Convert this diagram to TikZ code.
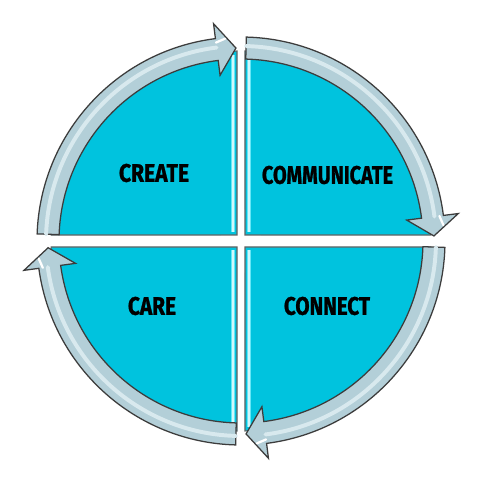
\documentclass[tikz,border=0pt]{standalone}
\usepackage{graphicx}
\usepackage{fontspec}
\newfontfamily\labelfont{Fira Sans}[FakeBold=1.2]
\definecolor{quadcyan}{HTML}{00C3DE}
\definecolor{quadlight}{HTML}{66E6F6}
\definecolor{bandfill}{HTML}{B3CFD8}
\definecolor{bandhi}{HTML}{D8E9EE}
\definecolor{edgegray}{HTML}{3C3C3C}
\tikzset{
  quad/.style={fill=quadcyan, draw=edgegray!80, line width=0.8},
  quadhi/.style={draw=quadlight, line width=2.6},
  quadcore/.style={draw=white!70!quadlight, line width=0.8},
  bandglow/.style={draw=bandhi, line width=2.8, line cap=round},
  glint/.style={draw=white, line width=1.6, line cap=round},
  lbl/.style={inner sep=0, text=black}
}
\newcommand{\lbltext}[2]{\resizebox{#1}{0.45cm}{\labelfont\bfseries #2}}
% arrow: #1 tail angle, #2 base angle, #3 tip angle, #4 glint angle
\newcommand{\bandarrow}[4]{%
  \fill[bandfill, draw=edgegray, line width=0.9, line join=miter]
    (#1:204) arc[start angle=#1, end angle=#2, radius=204]
    -- (#2:219) -- (#3:193) -- (#2:167) -- (#2:182)
    arc[start angle=#2, end angle=#1, radius=182] -- cycle;
  \draw[bandglow] (#1:195) arc[start angle=#1, end angle=#2, radius=195];
  \draw[glint] (#2:200) -- (#4:203);
}
\begin{document}
\begin{tikzpicture}[x=0.025cm, y=0.025cm]
\useasboundingbox (0,0) rectangle (480,480);
\fill[white] (0,0) rectangle (480,480);
\begin{scope}[shift={(241,239)}]
  % quadrants
  \path[quad] (-4,6) -- (91.2:190) arc[start angle=91.2, end angle=178.2, radius=190] -- cycle;
  \path[quad] (4,6) -- (88.8:190) arc[start angle=88.8, end angle=1.8, radius=190] -- cycle;
  \path[quad] (-4,-6) -- (181.8:190) arc[start angle=181.8, end angle=268.8, radius=190] -- cycle;
  \path[quad] (4,-6) -- (-88.8:190) arc[start angle=-88.8, end angle=-1.8, radius=190] -- cycle;
  % bevel highlights
  \draw[quadhi] (-8,9) -- (-8,186);
  \draw[quadhi] (8,9) -- (8,186);
  \draw[quadhi] (-8,-9) -- (-8,-186);
  \draw[quadhi] (8,-9) -- (8,-186);
  \draw[quadcore] (-8,9) -- (-8,186);
  \draw[quadcore] (8,9) -- (8,186);
  \draw[quadcore] (-8,-9) -- (-8,-186);
  \draw[quadcore] (8,-9) -- (8,-186);
  % arrows (clockwise)
  \bandarrow{178}{97.2}{91.5}{94.5}
  \bandarrow{88.5}{7.2}{1.5}{4.5}
  \bandarrow{-1.8}{-82.8}{-88.5}{-85.5}
  \bandarrow{-91.5}{-172.3}{-178}{-175}
  % labels
  \node[lbl] (create) at (-87,68) {\lbltext{1.75cm}{CREATE}};
  \node[lbl] (communicate) at (86.5,66) {\lbltext{3.275cm}{COMMUNICATE}};
  \node[lbl] (care) at (-89,-65) {\lbltext{1.2cm}{CARE}};
  \node[lbl] (connect) at (86,-65) {\lbltext{2.15cm}{CONNECT}};
\end{scope}
\end{tikzpicture}
\end{document}
